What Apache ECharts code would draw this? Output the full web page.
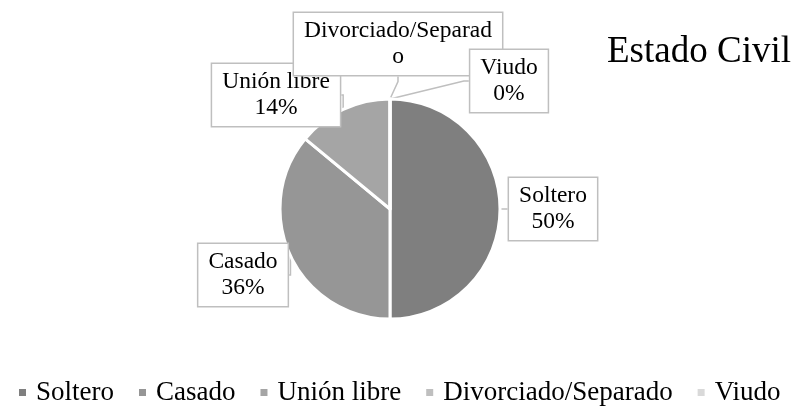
<!DOCTYPE html>
<html>
<head>
<meta charset="utf-8">
<script src="https://cdn.jsdelivr.net/npm/echarts@6/dist/echarts.min.js"></script>
<style>
html, body { margin: 0; padding: 0; background: #fff; }
#main { width: 800px; height: 406px; }
</style>
</head>
<body>
<div id="main"></div>
<script>
// categorias y valores (porcentaje)
var categorias = ['Soltero', 'Casado', 'Unión libre', 'Divorciado/Separado', 'Viudo'];
var valores = [50, 36, 14, 0, 0];
var colores = ['#7f7f7f', '#969696', '#a5a5a5', '#bfbfbf', '#d9d9d9'];
// centro de cada etiqueta (px)
var posEtiquetas = [[553, 209], [243, 275], [276, 95], [398, 44], [509, 81]];

var datos = [];
for (var i = 0; i < categorias.length; i++) {
	var item = { name: categorias[i], value: valores[i], itemStyle: { color: colores[i] } };
	if (i == 3) {
		// en el original la etiqueta se corta y no cabe el porcentaje
		item.label = { formatter: 'Divorciado/Separad\no' };
	}
	datos.push(item);
}

var option = {
	animation: false,
	backgroundColor: '#fff',
	title: {
		text: 'Estado Civil',
		left: 602,
		top: 29,
		textStyle: {
			fontFamily: 'Liberation Serif',
			fontSize: 37,
			fontWeight: 'normal',
			color: '#000'
		}
	},
	legend: {
		left: 12,
		top: 374,
		itemWidth: 9,
		itemHeight: 9,
		itemGap: 23,
		icon: 'rect',
		data: categorias,
		textStyle: {
			fontFamily: 'Liberation Serif',
			fontSize: 27,
			color: '#000',
			padding: [0, 0, 0, 4]
		}
	},
	series: [{
		name: 'Estado Civil',
		type: 'pie',
		center: [390, 209],
		radius: 110,
		startAngle: 90,
		clockwise: true,
		avoidLabelOverlap: false,
		itemStyle: {
			borderColor: '#fff',
			borderWidth: 3
		},
		label: {
			show: true,
			position: 'outside',
			formatter: '{b}\n{d}%',
			fontFamily: 'Liberation Serif',
			fontSize: 23.5,
			lineHeight: 26,
			color: '#000',
			align: 'center',
			backgroundColor: '#fff',
			borderColor: '#bfbfbf',
			borderWidth: 1.5,
			padding: [5, 10]
		},
		labelLine: {
			show: true,
			length: 5,
			length2: 5,
			lineStyle: {
				color: '#bfbfbf',
				width: 1.5
			}
		},
		labelLayout: function(params) {
			var p = posEtiquetas[params.dataIndex];
			return {
				x: p[0],
				y: p[1],
				align: 'center',
				verticalAlign: 'middle',
				hideOverlap: false
			};
		},
		emphasis: { disabled: true },
		data: datos
	}]
};
var myChart = echarts.init(document.getElementById('main'));
myChart.setOption(option, true);
</script>
</body>
</html>
